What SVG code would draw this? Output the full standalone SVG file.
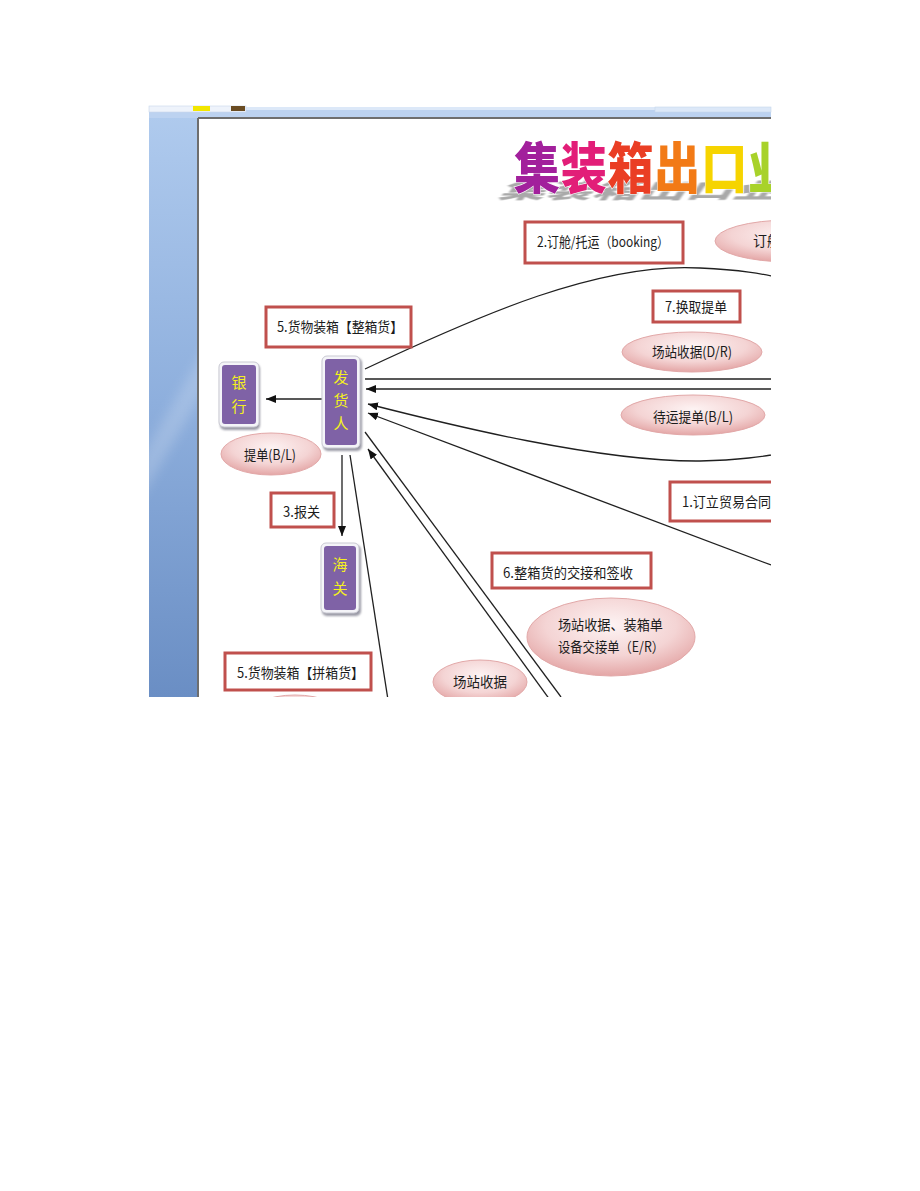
<svg xmlns="http://www.w3.org/2000/svg" width="920" height="1191" viewBox="0 0 920 1191">
<defs>
<style>
.t{font-family:"Noto Sans CJK SC","Noto Sans",sans-serif;font-size:14px;fill:#1c1c1c}
.y{font-family:"Noto Sans CJK SC","Noto Sans",sans-serif;font-size:15px;fill:#f4f020;text-anchor:middle}
.box{fill:#fff;stroke:#c0504d;stroke-width:3}
.ell{fill:url(#pink);stroke:#e2a8a8;stroke-width:1}
.ln{fill:none;stroke:#202020;stroke-width:1.3}
.pur{fill:#7f62a6}
.bev{fill:#f4f4f8;stroke:#c9c9d2;stroke-width:1}
.ti{font-family:"Noto Sans CJK SC",sans-serif;font-size:46px;font-weight:900}
</style>
<linearGradient id="blue" x1="0" y1="0" x2="0" y2="1">
<stop offset="0" stop-color="#b0cbee"/>
<stop offset="0.5" stop-color="#8eafdd"/>
<stop offset="1" stop-color="#6a8ec4"/>
</linearGradient>
<radialGradient id="pink" cx="0.5" cy="0.35" r="0.65">
<stop offset="0" stop-color="#fdf3f3"/>
<stop offset="0.6" stop-color="#f4d4d4"/>
<stop offset="1" stop-color="#e4a6a6"/>
</radialGradient>
<filter id="blur" x="-10%" y="-30%" width="120%" height="160%"><feGaussianBlur stdDeviation="1.2"/></filter>
<filter id="sh" x="-20%" y="-20%" width="150%" height="150%"><feGaussianBlur stdDeviation="1.2"/></filter>
<filter id="soft" x="-50%" y="-50%" width="200%" height="200%"><feGaussianBlur stdDeviation="6"/></filter>
<clipPath id="page"><rect x="199" y="119" width="572" height="578"/></clipPath>
<clipPath id="side"><rect x="149" y="118" width="49" height="579"/></clipPath>
<marker id="ar" markerUnits="userSpaceOnUse" markerWidth="11" markerHeight="9" refX="10" refY="4" orient="auto"><path d="M0,0 L10,4 L0,8 z" fill="#111"/></marker>
</defs>

<g id="frame">
<rect x="149" y="107" width="622" height="590" fill="url(#blue)"/>
<g clip-path="url(#side)"><polygon points="140,460 210,340 210,380 140,500" fill="#ffffff" opacity="0.18" filter="url(#soft)"/></g>
<rect x="149" y="107" width="622" height="11" fill="#bcd2f0"/>
<rect x="149" y="107" width="622" height="3" fill="#dce8f8"/>
<rect x="149" y="106" width="97" height="6" fill="#eef3fb" stroke="#c8d6ea" stroke-width="0.6"/>
<rect x="193" y="106" width="17" height="5" fill="#f2e600"/>
<rect x="231" y="106" width="14" height="5" fill="#6a4c22"/>
<rect x="655" y="107" width="116" height="5" fill="#dce8f8" stroke="#c6d6ec" stroke-width="0.6"/>
<rect x="199" y="119" width="572" height="578" fill="#ffffff"/>
<line x1="198" y1="118" x2="771" y2="118" stroke="#6e6e6e" stroke-width="2"/>
<line x1="198" y1="118" x2="198" y2="697" stroke="#6e6e6e" stroke-width="2"/>
</g>

<g clip-path="url(#page)">
<g id="title">
<text class="ti" transform="translate(498,198) skewX(-35) scale(1,0.45)" fill="#a9a9a9" filter="url(#blur)" letter-spacing="0.8">集装箱出口业</text>
<text class="ti" transform="translate(514,188) scale(1,1.18)" letter-spacing="0.8" stroke="#ffffff" stroke-width="1" paint-order="stroke"><tspan fill="#a2209c">集</tspan><tspan fill="#e21e78">装</tspan><tspan fill="#ea3e24">箱</tspan><tspan fill="#f27a16">出</tspan><tspan fill="#f6d400">口</tspan><tspan fill="#a8d22a">业</tspan></text>
</g>

<g id="connectors">
<path class="ln" d="M365,369 C480,315 600,262 700,268 C740,270 760,273 790,280"/>
<path class="ln" d="M365,379 L771,379"/>
<path class="ln" d="M771,389 L366,389" marker-end="url(#ar)"/>
<path class="ln" d="M790,452 C760,457 740,460 700,461 C600,462 450,425 368,404" marker-end="url(#ar)"/>
<path class="ln" d="M771,565 L368,413" marker-end="url(#ar)"/>
<path class="ln" d="M365,432 L561,697"/>
<path class="ln" d="M550,700 L368,449" marker-end="url(#ar)"/>
<path class="ln" d="M342,455 L342,536" marker-end="url(#ar)"/>
<path class="ln" d="M350,455 L388,700"/>
<path class="ln" d="M322,399 L266,399" marker-end="url(#ar)"/>
</g>

<g id="n-booking"><rect class="box" x="525" y="222" width="158" height="41"/><text class="t" x="537" y="247" textLength="132" lengthAdjust="spacingAndGlyphs">2.订舱/托运（booking）</text></g>
<g id="n-booking-doc"><ellipse class="ell" cx="790" cy="241" rx="75" ry="21"/><text class="t" x="753" y="246">订舱</text></g>
<g id="n-exchange"><rect class="box" x="653" y="291" width="87" height="31"/><text class="t" x="665" y="312" textLength="62" lengthAdjust="spacingAndGlyphs">7.换取提单</text></g>
<g id="n-dr"><ellipse class="ell" cx="692" cy="352" rx="70" ry="20"/><text class="t" x="652" y="357" textLength="80" lengthAdjust="spacingAndGlyphs">场站收据(D/R)</text></g>
<g id="n-bl-wait"><ellipse class="ell" cx="693" cy="415" rx="72" ry="20"/><text class="t" x="653" y="422" textLength="80" lengthAdjust="spacingAndGlyphs">待运提单(B/L)</text></g>
<g id="n-fcl"><rect class="box" x="266" y="307" width="145" height="40"/><text class="t" x="277" y="332" textLength="126" lengthAdjust="spacingAndGlyphs">5.货物装箱【整箱货】</text></g>

<g id="n-bank">
<rect x="220" y="364" width="40" height="66" rx="5" fill="#9a9aa6" filter="url(#sh)"/>
<rect class="bev" x="219" y="362" width="40" height="65" rx="5"/>
<rect class="pur" x="222" y="365" width="34" height="59" rx="3"/>
<text class="y" x="239" y="388">银</text><text class="y" x="239" y="412">行</text>
</g>
<g id="n-shipper">
<rect x="323" y="358" width="39" height="93" rx="5" fill="#9a9aa6" filter="url(#sh)"/>
<rect class="bev" x="322" y="356" width="38" height="92" rx="5"/>
<rect class="pur" x="325" y="359" width="32" height="86" rx="3"/>
<text class="y" x="341" y="383">发</text><text class="y" x="341" y="406">货</text><text class="y" x="341" y="429">人</text>
</g>
<g id="n-customs">
<rect x="322" y="545" width="39" height="71" rx="5" fill="#9a9aa6" filter="url(#sh)"/>
<rect class="bev" x="321" y="543" width="38" height="70" rx="5"/>
<rect class="pur" x="324" y="546" width="32" height="64" rx="3"/>
<text class="y" x="340" y="570">海</text><text class="y" x="340" y="594">关</text>
</g>

<g id="n-bl"><ellipse class="ell" cx="271" cy="454" rx="50" ry="21"/><text class="t" x="244" y="460" textLength="52" lengthAdjust="spacingAndGlyphs">提单(B/L)</text></g>
<g id="n-declare"><rect class="box" x="271" y="493" width="63" height="34"/><text class="t" x="283" y="517" textLength="37" lengthAdjust="spacingAndGlyphs">3.报关</text></g>
<g id="n-contract"><rect class="box" x="670" y="482" width="110" height="39"/><text class="t" x="682" y="507" textLength="89" lengthAdjust="spacingAndGlyphs">1.订立贸易合同</text></g>
<g id="n-fcl-handover"><rect class="box" x="492" y="553" width="159" height="35"/><text class="t" x="503" y="578" textLength="130" lengthAdjust="spacingAndGlyphs">6.整箱货的交接和签收</text></g>
<g id="n-er"><ellipse class="ell" cx="611" cy="637" rx="84" ry="39"/><text class="t" x="558" y="630" textLength="105" lengthAdjust="spacingAndGlyphs">场站收据、装箱单</text><text class="t" x="558" y="652" textLength="106" lengthAdjust="spacingAndGlyphs">设备交接单（E/R）</text></g>
<g id="n-lcl"><rect class="box" x="225" y="653" width="146" height="37"/><text class="t" x="237" y="678" textLength="127" lengthAdjust="spacingAndGlyphs">5.货物装箱【拼箱货】</text></g>
<g id="n-dr2"><ellipse class="ell" cx="480" cy="682" rx="47" ry="22"/><text class="t" x="453" y="687" textLength="54" lengthAdjust="spacingAndGlyphs">场站收据</text></g>
<g id="n-lcl-doc"><ellipse class="ell" cx="295" cy="718" rx="50" ry="23"/></g>
</g>
</svg>
